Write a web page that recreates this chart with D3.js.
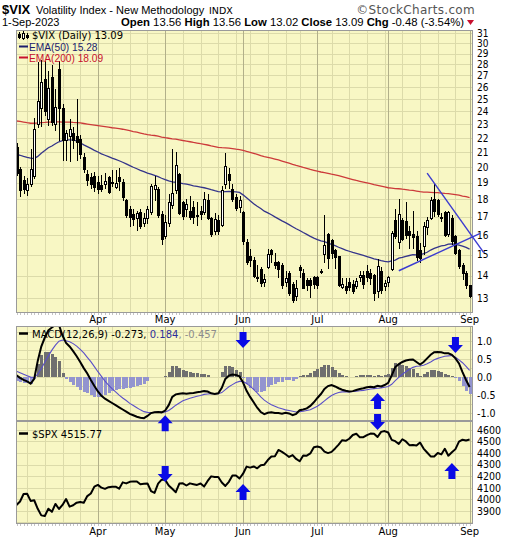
<!DOCTYPE html>
<html><head><meta charset="utf-8">
<script src="https://cdn.jsdelivr.net/npm/d3@7"></script>
<style>
html,body{margin:0;padding:0;background:#fff;}
svg{display:block;}
</style></head><body>
<svg id="chart" width="520" height="540"></svg>
<script>
// ---- trading days (Mar 1 – Sep 1, 2023) ----
const dates = [
"2023-03-01","2023-03-02","2023-03-03","2023-03-06","2023-03-07","2023-03-08","2023-03-09","2023-03-10","2023-03-13","2023-03-14","2023-03-15","2023-03-16","2023-03-17","2023-03-20","2023-03-21","2023-03-22","2023-03-23","2023-03-24","2023-03-27","2023-03-28","2023-03-29","2023-03-30","2023-03-31",
"2023-04-03","2023-04-04","2023-04-05","2023-04-06","2023-04-10","2023-04-11","2023-04-12","2023-04-13","2023-04-14","2023-04-17","2023-04-18","2023-04-19","2023-04-20","2023-04-21","2023-04-24","2023-04-25","2023-04-26","2023-04-27","2023-04-28",
"2023-05-01","2023-05-02","2023-05-03","2023-05-04","2023-05-05","2023-05-08","2023-05-09","2023-05-10","2023-05-11","2023-05-12","2023-05-15","2023-05-16","2023-05-17","2023-05-18","2023-05-19","2023-05-22","2023-05-23","2023-05-24","2023-05-25","2023-05-26","2023-05-30","2023-05-31",
"2023-06-01","2023-06-02","2023-06-05","2023-06-06","2023-06-07","2023-06-08","2023-06-09","2023-06-12","2023-06-13","2023-06-14","2023-06-15","2023-06-16","2023-06-20","2023-06-21","2023-06-22","2023-06-23","2023-06-26","2023-06-27","2023-06-28","2023-06-29","2023-06-30",
"2023-07-03","2023-07-05","2023-07-06","2023-07-07","2023-07-10","2023-07-11","2023-07-12","2023-07-13","2023-07-14","2023-07-17","2023-07-18","2023-07-19","2023-07-20","2023-07-21","2023-07-24","2023-07-25","2023-07-26","2023-07-27","2023-07-28","2023-07-31",
"2023-08-01","2023-08-02","2023-08-03","2023-08-04","2023-08-07","2023-08-08","2023-08-09","2023-08-10","2023-08-11","2023-08-14","2023-08-15","2023-08-16","2023-08-17","2023-08-18","2023-08-21","2023-08-22","2023-08-23","2023-08-24","2023-08-25","2023-08-28","2023-08-29","2023-08-30","2023-08-31",
"2023-09-01"];

// ---- $VIX daily candles ----
const vixOpen = [
21.3,19.8,19.1,18.5,18.9,19.4,23.0,24.2,26.6,23.4,26.8,23.0,27.5,24.2,21.8,22.1,22.3,22.1,21.9,20.6,19.5,19.3,19.4,
19.0,18.8,18.9,19.3,19.0,18.7,19.3,19.0,17.9,17.4,17.1,16.9,17.2,16.6,16.9,17.2,18.6,18.6,17.1,
15.9,16.6,17.6,18.5,19.5,17.8,17.4,17.3,17.5,17.0,17.3,17.2,17.9,16.9,16.2,16.8,16.5,18.9,19.5,18.6,18.1,17.5,
17.2,15.6,14.9,14.7,13.9,14.3,13.7,14.4,15.2,14.6,14.6,14.5,13.7,14.1,13.6,13.1,14.4,14.1,13.8,13.8,13.9,
13.9,14.2,15.0,16.0,15.7,15.2,14.9,13.45,13.5,13.7,13.6,13.5,13.9,14.0,14.2,14.1,14.0,13.3,14.2,13.5,
13.7,14.3,16.8,15.6,16.8,16.7,16.2,16.0,15.9,15.2,15.4,16.4,16.9,18.0,17.9,16.9,17.2,16.0,16.9,15.9,15.2,14.5,14.1,
13.56];
const vixHigh = [
21.6,20.0,19.4,19.3,21.2,23.5,28.2,28.4,28.3,27.4,27.9,25.8,28.3,24.6,22.6,23.4,22.8,25.0,22.2,20.9,19.8,19.6,19.7,
19.4,19.5,19.6,19.4,19.8,19.8,19.9,19.2,18.0,17.6,17.4,17.3,17.4,17.2,17.6,18.9,19.4,18.7,17.3,
17.1,18.3,21.2,21.0,19.6,17.9,18.0,18.2,17.9,17.8,17.6,18.4,18.3,17.0,17.2,17.1,18.8,20.9,19.9,18.9,18.3,18.2,
17.3,15.8,15.3,14.9,14.5,14.4,14.1,15.3,15.3,15.1,14.7,14.6,14.2,14.2,13.7,13.8,14.5,14.3,13.9,13.9,14.0,
14.0,14.3,17.1,16.1,15.8,15.3,14.9,13.9,13.9,13.9,13.8,13.9,14.2,14.2,14.5,14.3,14.1,14.8,14.4,13.8,
14.0,16.2,17.4,18.0,16.9,17.8,16.5,17.3,16.2,15.6,16.7,17.0,18.1,18.9,18.0,17.2,17.3,17.3,17.1,16.0,15.3,14.6,14.2,
13.56];
const vixLow = [
19.4,18.1,18.3,18.2,18.7,19.2,22.7,22.8,23.6,22.9,22.9,22.5,21.8,20.4,20.4,20.3,21.2,20.4,20.5,19.6,18.8,18.6,18.4,
18.3,18.4,18.6,18.3,18.7,18.6,18.5,17.9,16.9,16.4,16.5,16.2,16.3,16.4,16.6,17.1,17.9,16.9,15.5,
15.8,16.4,17.4,18.3,17.1,16.8,17.0,16.8,16.6,16.5,16.8,17.1,16.8,15.9,16.0,16.0,16.4,18.6,18.6,17.8,17.3,17.2,
15.5,14.5,14.4,13.9,13.7,13.5,13.5,14.3,14.6,14.3,13.9,13.4,13.5,13.1,12.8,12.9,13.9,13.4,13.3,13.0,13.4,
13.4,14.1,14.6,14.3,14.8,14.3,13.5,13.4,13.2,13.3,13.2,13.4,13.7,13.4,13.7,13.6,12.9,13.0,13.2,13.3,
13.5,14.2,15.8,15.3,15.7,15.8,15.3,15.3,14.7,14.6,15.0,16.0,16.8,17.0,17.0,16.7,15.9,15.9,15.5,15.0,14.3,13.8,13.4,
13.02];
const vixClose = [
19.6,18.5,18.6,18.9,19.8,22.6,24.8,26.4,24.0,25.9,23.1,24.3,24.2,21.8,22.3,22.6,21.8,21.7,20.8,19.8,19.1,18.9,18.7,
18.55,18.58,19.08,18.40,18.97,18.97,19.09,18.1,17.07,16.95,16.83,17.16,16.46,16.9,17.4,18.76,18.84,17.03,15.78,
16.66,17.78,18.34,20.09,17.19,16.98,17.71,16.94,16.93,17.03,17.12,17.99,16.87,16.05,16.81,16.21,18.53,20.03,19.14,17.95,17.46,17.94,
15.65,14.60,14.73,13.96,13.94,13.65,13.83,15.01,15.01,14.50,14.28,13.54,13.88,13.20,12.91,13.44,14.25,13.43,13.54,13.54,13.59,
13.57,14.18,15.44,14.83,15.07,14.84,13.54,13.61,13.34,13.48,13.30,13.76,13.99,13.60,13.91,13.86,13.19,14.41,13.33,13.63,
13.93,16.09,15.92,17.10,15.77,15.99,15.96,15.85,14.84,14.82,16.46,16.78,17.89,17.30,17.13,16.97,15.98,17.20,15.68,15.08,14.45,14.09,13.57,
13.09];

// ---- moving averages of the close ----
const ema50 = [
20.85,20.78,20.70,20.63,20.58,20.56,20.70,20.92,21.10,21.30,21.42,21.58,21.72,21.80,21.85,21.86,21.84,21.78,21.65,21.50,21.38,21.25,21.12,
21.00,20.88,20.78,20.68,20.58,20.50,20.41,20.31,20.20,20.09,19.98,19.88,19.78,19.69,19.60,19.53,19.45,19.37,19.27,
19.18,19.10,19.04,19.02,18.98,18.93,18.90,18.85,18.80,18.76,18.72,18.68,18.63,18.56,18.50,18.45,18.43,18.45,18.46,18.45,18.43,18.40,
18.25,18.08,17.90,17.73,17.58,17.45,17.30,17.20,17.10,16.98,16.87,16.76,16.66,16.55,16.44,16.33,16.24,16.13,16.03,15.93,15.84,
15.76,15.69,15.66,15.58,15.52,15.45,15.37,15.30,15.23,15.17,15.11,15.06,15.01,14.96,14.91,14.86,14.80,14.76,14.71,14.67,
14.65,14.70,14.74,14.83,14.87,14.92,14.96,15.00,14.99,14.99,15.05,15.12,15.23,15.31,15.38,15.44,15.46,15.53,15.54,15.52,15.48,15.43,15.36,
15.28];
const ema200 = [
23.25,23.22,23.17,23.12,23.08,23.08,23.10,23.13,23.14,23.17,23.17,23.18,23.19,23.17,23.16,23.16,23.14,23.13,23.10,23.06,23.02,22.98,22.94,
22.90,22.86,22.82,22.78,22.74,22.71,22.67,22.63,22.58,22.52,22.46,22.41,22.35,22.29,22.24,22.20,22.17,22.12,22.06,
22.01,21.97,21.93,21.91,21.86,21.81,21.77,21.72,21.67,21.63,21.58,21.54,21.49,21.43,21.38,21.33,21.30,21.29,21.27,21.24,21.20,21.17,
21.11,21.04,20.98,20.91,20.84,20.76,20.69,20.64,20.58,20.52,20.46,20.39,20.32,20.25,20.17,20.10,20.04,19.97,19.91,19.84,19.78,
19.72,19.67,19.63,19.58,19.53,19.49,19.43,19.37,19.31,19.25,19.19,19.13,19.08,19.03,18.98,18.93,18.87,18.83,18.78,18.73,
18.68,18.66,18.63,18.62,18.59,18.57,18.54,18.52,18.48,18.44,18.42,18.41,18.40,18.39,18.38,18.36,18.34,18.33,18.30,18.27,18.23,18.18,18.14,
18.09];

// ---- MACD(12,26,9) ----
const macdLine = [
0.05,-0.02,-0.08,-0.12,-0.18,-0.05,0.45,0.85,1.10,1.30,1.38,1.45,1.45,1.15,0.95,0.85,0.72,0.58,0.42,0.25,0.10,-0.08,-0.25,
-0.40,-0.52,-0.60,-0.66,-0.72,-0.78,-0.84,-0.90,-0.96,-1.02,-1.06,-1.10,-1.13,-1.14,-1.08,-1.00,-0.98,-0.97,-0.98,
-0.93,-0.78,-0.55,-0.48,-0.46,-0.45,-0.46,-0.45,-0.44,-0.42,-0.41,-0.39,-0.40,-0.45,-0.47,-0.45,-0.30,-0.05,0.04,0.07,0.06,0.02,
-0.15,-0.38,-0.55,-0.70,-0.85,-0.97,-1.03,-0.99,-0.98,-1.00,-1.00,-1.02,-0.99,-1.01,-1.06,-1.02,-0.92,-0.90,-0.87,-0.80,-0.70,
-0.58,-0.47,-0.33,-0.25,-0.22,-0.26,-0.31,-0.35,-0.38,-0.40,-0.39,-0.36,-0.33,-0.31,-0.28,-0.27,-0.28,-0.24,-0.26,-0.22,
-0.16,0.05,0.28,0.36,0.42,0.46,0.48,0.49,0.42,0.35,0.42,0.52,0.62,0.69,0.70,0.69,0.66,0.66,0.62,0.52,0.38,0.14,-0.08,
-0.273];
const signalLine = [
0.16,0.12,0.08,0.04,0.00,-0.01,0.08,0.24,0.41,0.59,0.75,0.89,1.00,1.03,1.01,0.98,0.93,0.86,0.77,0.67,0.55,0.43,0.29,
0.15,0.02,-0.11,-0.22,-0.32,-0.41,-0.50,-0.58,-0.65,-0.73,-0.79,-0.85,-0.91,-0.96,-0.98,-0.99,-0.98,-0.98,-0.98,
-0.97,-0.93,-0.86,-0.78,-0.72,-0.66,-0.62,-0.59,-0.56,-0.53,-0.51,-0.48,-0.47,-0.46,-0.46,-0.46,-0.43,-0.35,-0.27,-0.21,-0.15,-0.12,
-0.12,-0.18,-0.25,-0.34,-0.44,-0.55,-0.64,-0.71,-0.77,-0.81,-0.85,-0.88,-0.91,-0.93,-0.95,-0.97,-0.96,-0.95,-0.93,-0.91,-0.86,
-0.81,-0.74,-0.66,-0.58,-0.51,-0.46,-0.43,-0.41,-0.41,-0.41,-0.40,-0.39,-0.38,-0.37,-0.35,-0.33,-0.32,-0.31,-0.30,-0.28,
-0.26,-0.20,-0.10,-0.01,0.08,0.15,0.22,0.27,0.30,0.31,0.33,0.37,0.42,0.48,0.52,0.55,0.58,0.59,0.60,0.55,0.48,0.40,0.30,
0.184];

// ---- $SPX close ----
const spxClose = [
3951.39,3981.35,4045.64,4048.42,3986.37,3992.01,3918.32,3861.59,3855.76,3919.29,3891.93,3960.28,3916.64,3951.57,4002.87,3936.97,3948.72,3970.99,3977.53,3971.27,4027.81,4050.83,4109.31,
4124.51,4100.60,4090.38,4105.02,4109.11,4108.94,4091.95,4146.22,4137.64,4151.32,4154.87,4154.52,4129.79,4133.52,4137.04,4071.63,4055.99,4135.35,4169.48,
4167.87,4119.58,4090.75,4061.22,4136.25,4138.12,4119.17,4137.64,4130.62,4124.08,4136.28,4109.90,4158.77,4198.05,4191.98,4192.63,4145.58,4115.24,4151.28,4205.45,4205.52,4179.83,
4221.02,4282.37,4273.79,4283.85,4267.52,4293.93,4298.86,4338.93,4369.01,4372.59,4425.84,4409.59,4388.71,4365.69,4381.89,4348.33,4328.82,4378.41,4376.86,4396.44,4450.38,
4455.59,4446.82,4411.59,4398.95,4409.53,4439.26,4472.16,4510.04,4505.42,4522.79,4554.98,4565.72,4534.87,4536.34,4554.64,4567.46,4566.75,4537.41,4582.23,4588.96,
4576.73,4513.39,4501.89,4478.03,4518.44,4499.38,4467.71,4468.83,4464.05,4489.72,4437.86,4404.33,4370.36,4369.71,4399.77,4387.55,4436.01,4376.31,4405.71,4433.31,4497.63,4514.87,4507.66,
4515.77];

// ---- axis tick values ----
const priceTicks = [13,14,15,16,17,18,19,20,21,22,23,24,25,26,27,28,29,30,31];
const macdTicks = [-1.0,-0.5,0.0,0.5,1.0];
const macdGrid = [-1.0,-0.75,-0.5,-0.25,0,0.25,0.5,0.75,1.0,1.25];
const spxTicks = [3900,4000,4100,4200,4300,4400,4500,4600];
const spxGrid = [3800,3900,4000,4100,4200,4300,4400,4500,4600];

// ---- annotations: signal arrows and trendlines ----
const macdArrows = [["2023-05-01","up",-1.06],["2023-06-01","down",0.81],["2023-07-27","up",-0.44],["2023-08-28","down",0.67]];
const spxArrows  = [["2023-05-01","down",4150],["2023-06-01","up",4132],["2023-07-27","down",4598],["2023-08-25","up",4313]];
// [bar offset, value] endpoints
const trendDown = [[116,19.6],[132,15.1]];
const trendUp   = [[108,14.23],[131,16.09]];

// ---------------------------------------------------------------
const fmtLocale = d3.formatLocale({decimal:".",thousands:",",grouping:[3],currency:["$",""],minus:"-"});
const f2 = fmtLocale.format(".2f"), f3 = fmtLocale.format(".3f"), f1 = fmtLocale.format(".1f");
const parse = d3.utcParse("%Y-%m-%d");
const n = dates.length;

const svg = d3.select("#chart");
const L = 16, R = 473;
const pricePanel = {t:30, b:313};
const macdPanel  = {t:326, b:421};
const spxPanel   = {t:421, b:524};

const x = d3.scalePoint().domain(dates).range([16.5, 469.6]);
const step = x.step();
const xi = i => x(dates[0]) + i * step;

const yP = d3.scaleLog().domain([12.39, 31.33]).range([pricePanel.b, pricePanel.t]);
const yM = d3.scaleLinear().domain([-1.22, 1.42]).range([macdPanel.b, macdPanel.t]);
const yS = d3.scaleLinear().domain([3787, 4676]).range([spxPanel.b, spxPanel.t]);

const BG = "#f8f7c4", GRID = "#dcdbaa", MGRID = "#b2b08a", BORDER = "#9a9a9a";
const axisFont = "'DejaVu Sans Condensed','DejaVu Sans',sans-serif";
const legFont = "'DejaVu Sans',Verdana,sans-serif";
const narrowFont = "'Liberation Sans',Arial,sans-serif";

svg.append("rect").attr("width",520).attr("height",540).attr("fill","#fff");

// vertical grid positions: first bar of each week / month
const weekIdx = [], monthIdx = [];
dates.forEach((d,i) => {
  if (i === 0) return;
  const dt = parse(d), pv = parse(dates[i-1]);
  if (dt.getUTCMonth() !== pv.getUTCMonth()) monthIdx.push(i);
  else if (dt.getUTCDay() < pv.getUTCDay()) weekIdx.push(i);
});

function drawPanel(p, y, grid, id) {
  const g = svg.append("g");
  g.append("rect").attr("x",L).attr("y",p.t).attr("width",R-L).attr("height",p.b-p.t).attr("fill",BG);
  g.selectAll(".hg").data(grid).join("line")
    .attr("x1",L).attr("x2",R).attr("y1",d=>Math.round(y(d))+0.5).attr("y2",d=>Math.round(y(d))+0.5)
    .attr("stroke",GRID).attr("stroke-width",1);
  g.selectAll(".wg").data(weekIdx).join("line")
    .attr("x1",i=>Math.round(xi(i))+0.5).attr("x2",i=>Math.round(xi(i))+0.5).attr("y1",p.t).attr("y2",p.b)
    .attr("stroke",GRID).attr("stroke-width",1);
  g.selectAll(".mg").data(monthIdx).join("line")
    .attr("x1",i=>Math.round(xi(i))+0.5).attr("x2",i=>Math.round(xi(i))+0.5).attr("y1",p.t).attr("y2",p.b)
    .attr("stroke",MGRID).attr("stroke-width",1);
  svg.append("clipPath").attr("id",id).append("rect")
    .attr("x",L).attr("y",p.t).attr("width",R-L).attr("height",p.b-p.t);
  return svg.append("g").attr("clip-path",`url(#${id})`);
}
function drawBorder(p) {
  svg.append("rect").attr("x",L+0.5).attr("y",p.t+0.5).attr("width",R-L-1).attr("height",p.b-p.t-1)
    .attr("fill","none").attr("stroke",BORDER);
  // daily tick marks under the panel
  svg.append("g").selectAll("line").data(d3.range(n)).join("line")
    .attr("x1",i=>Math.round(xi(i))+0.5).attr("x2",i=>Math.round(xi(i))+0.5)
    .attr("y1",p.b).attr("y2",p.b+2).attr("stroke","#c4c4c4");
}
function drawAxis(y, ticks, fmt, size) {
  const ax = svg.append("g").attr("transform",`translate(${R+2},0)`)
    .call(d3.axisRight(y).tickValues(ticks).tickFormat(fmt).tickSize(0).tickPadding(2));
  ax.select(".domain").remove();
  ax.selectAll("text").style("font-family",axisFont).style("font-size",size).attr("fill","#000");
}

// ================= price panel =================
const pc = drawPanel(pricePanel, yP, priceTicks, "clipPrice");
const lineP = arr => d3.line().x((d,i)=>xi(i)).y(d=>yP(d))(arr);
pc.append("path").attr("d",lineP(ema200)).attr("fill","none").attr("stroke","#cc3a3a").attr("stroke-width",1.3);
pc.append("path").attr("d",lineP(ema50)).attr("fill","none").attr("stroke","#34348a").attr("stroke-width",1.3);

const candles = pc.append("g").attr("shape-rendering","crispEdges");
d3.range(n).forEach(i => {
  const cx = Math.round(xi(i));
  const o = vixOpen[i], c = vixClose[i];
  candles.append("line").attr("x1",cx+0.5).attr("x2",cx+0.5)
    .attr("y1",yP(vixHigh[i])).attr("y2",yP(vixLow[i])).attr("stroke","#000");
  const top = yP(Math.max(o,c)), bot = yP(Math.min(o,c));
  candles.append("rect").attr("x",cx-1+0.5).attr("y",top).attr("width",2)
    .attr("height",Math.max(1,bot-top))
    .attr("fill", c >= o ? "#fff" : "#000").attr("stroke","#000").attr("stroke-width",1);
});
drawBorder(pricePanel);
drawAxis(yP, priceTicks, d3.format("d"), "10px");

// trendlines
[trendDown, trendUp].forEach(t => {
  svg.append("line")
    .attr("x1",xi(t[0][0])).attr("y1",yP(t[0][1])).attr("x2",xi(t[1][0])).attr("y2",yP(t[1][1]))
    .attr("stroke","#3b3bd0").attr("stroke-width",1.4);
});

// legend
const icon = svg.append("g").attr("shape-rendering","crispEdges");
[[19,32,39,34,37,"#000"],[23,31,40,33,38,"#fff"],[27,33,39,35,37,"#000"]].forEach(b=>{
  icon.append("line").attr("x1",b[0]+0.5).attr("x2",b[0]+0.5).attr("y1",b[1]).attr("y2",b[2]).attr("stroke","#000");
  icon.append("rect").attr("x",b[0]-1+0.5).attr("y",b[3]).attr("width",2).attr("height",b[4]-b[3]).attr("fill",b[5]).attr("stroke","#000");
});
svg.append("text").attr("x",32).attr("y",39).style("font-family",legFont).style("font-size","10px")
  .text(`$VIX (Daily) ${f2(vixClose[n-1])}`);
svg.append("line").attr("x1",19).attr("x2",28).attr("y1",46.5).attr("y2",46.5).attr("stroke","#1c1c6e").attr("stroke-width",2);
svg.append("text").attr("x",29).attr("y",50.5).style("font-family",narrowFont).style("font-size","10.2px").attr("fill","#1c1c6e")
  .text(`EMA(50) ${f2(ema50[n-1])}`);
svg.append("line").attr("x1",19).attr("x2",28).attr("y1",57.5).attr("y2",57.5).attr("stroke","#c8102e").attr("stroke-width",2);
svg.append("text").attr("x",29).attr("y",61.5).style("font-family",narrowFont).style("font-size","10.2px").attr("fill","#c8102e")
  .text(`EMA(200) ${f2(ema200[n-1])}`);

// ================= month labels =================
const mfmt = d3.utcFormat("%b");
[323, 535].forEach(yy => {
  svg.append("g").selectAll("text").data(monthIdx).join("text")
    .attr("x",i=>xi(i)).attr("y",yy).attr("text-anchor","middle")
    .style("font-family",legFont).style("font-size","10px")
    .text(i=>mfmt(parse(dates[i])));
});

// ================= MACD panel =================
const mc = drawPanel(macdPanel, yM, macdGrid, "clipMacd");
const hist = macdLine.map((m,i)=>m - signalLine[i]);
mc.append("g").attr("shape-rendering","crispEdges").selectAll("rect").data(hist).join("rect")
  .attr("x",(d,i)=>Math.round(xi(i))-1.5).attr("width",3)
  .attr("y",d=>Math.min(yM(0),yM(d))).attr("height",d=>Math.abs(yM(d)-yM(0)))
  .attr("fill",d=>d>=0?"#6f6f6f":"#9394cf");
const lineM = arr => d3.line().x((d,i)=>xi(i)).y(d=>yM(d))(arr);
mc.append("path").attr("d",lineM(signalLine)).attr("fill","none").attr("stroke","#5a4fc8").attr("stroke-width",1.1);
mc.append("path").attr("d",lineM(macdLine)).attr("fill","none").attr("stroke","#000").attr("stroke-width",2);
drawBorder(macdPanel);
drawAxis(yM, macdTicks, f1, "10.5px");

svg.append("line").attr("x1",19).attr("x2",28).attr("y1",333.5).attr("y2",333.5).attr("stroke","#000").attr("stroke-width",2.5);
const ml = svg.append("text").attr("x",32).attr("y",337.5).style("font-family",legFont).style("font-size","10px");
ml.append("tspan").attr("fill","#000").text(`MACD(12,26,9) ${f3(macdLine[n-1])}, `);
ml.append("tspan").attr("fill","#2e2e9a").text(f3(signalLine[n-1]));
ml.append("tspan").attr("fill","#8c8c8c").text(`, ${f3(macdLine[n-1]-signalLine[n-1])}`);

// ================= SPX panel =================
const sc = drawPanel(spxPanel, yS, spxGrid, "clipSpx");
sc.append("path").attr("d",d3.line().x((d,i)=>xi(i)).y(d=>yS(d))(spxClose))
  .attr("fill","none").attr("stroke","#000").attr("stroke-width",2).attr("stroke-linejoin","round");
drawBorder(spxPanel);
drawAxis(yS, spxTicks, d3.format("d"), "10.5px");
svg.append("line").attr("x1",19).attr("x2",28).attr("y1",433.5).attr("y2",433.5).attr("stroke","#000").attr("stroke-width",2.5);
svg.append("text").attr("x",32).attr("y",437.5).style("font-family",legFont).style("font-size","10px")
  .text(`$SPX ${f2(spxClose[n-1])}`);

// ================= arrows =================
function arrow(cx, tip, dir) {
  const s = dir === "up" ? 1 : -1;
  const pts = [[cx,tip],[cx+7.5,tip+8*s],[cx+3.5,tip+8*s],[cx+3.5,tip+16*s],[cx-3.5,tip+16*s],[cx-3.5,tip+8*s],[cx-7.5,tip+8*s]];
  svg.append("polygon").attr("points",pts.map(p=>p.join(",")).join(" ")).attr("fill","#0a0ae6");
}
macdArrows.forEach(a => arrow(x(a[0]), yM(a[2]), a[1]));
spxArrows.forEach(a => arrow(x(a[0]), yS(a[2]), a[1]));

// ================= header =================
svg.append("text").attr("x",2).attr("y",13.5).style("font-family",narrowFont).style("font-weight","bold").style("font-size","13px").text("$VIX");
svg.append("text").attr("x",36).attr("y",13.5).style("font-family",narrowFont).style("font-size","11px").text("Volatility Index - New Methodology");
svg.append("text").attr("x",209).attr("y",13.5).style("font-family",legFont).style("font-size","9.5px").text("INDX");
svg.append("text").attr("x",475).attr("y",13.5).attr("text-anchor","end").attr("fill","#555")
  .style("font-family",legFont).style("font-size","12px").style("letter-spacing","0.3px").text("\u00a9StockCharts.com");

const lastDate = parse(dates[n-1]);
svg.append("text").attr("x",2).attr("y",26).style("font-family",narrowFont).style("font-size","11px")
  .text(`${lastDate.getUTCDate()}-${d3.utcFormat("%b-%Y")(lastDate)}`);
const chg = vixClose[n-1] - vixClose[n-2];
const hdr = svg.append("text").attr("x",464).attr("y",26).attr("text-anchor","end")
  .style("font-family",narrowFont).style("font-size","11.3px");
[["Open",f2(vixOpen[n-1])],["High",f2(vixHigh[n-1])],["Low",f2(vixLow[n-1])],["Close",f2(vixClose[n-1])]].forEach(p=>{
  hdr.append("tspan").style("font-weight","bold").text(p[0]+" ");
  hdr.append("tspan").text(p[1]+" ");
});
hdr.append("tspan").style("font-weight","bold").text("Chg ");
hdr.append("tspan").text(`${f2(chg)} (${f2(chg/vixClose[n-2]*100)}%)`);
svg.append("polygon").attr("points","467,20 474,20 470.5,25").attr("fill","#c8102e");
</script>
</body></html>
